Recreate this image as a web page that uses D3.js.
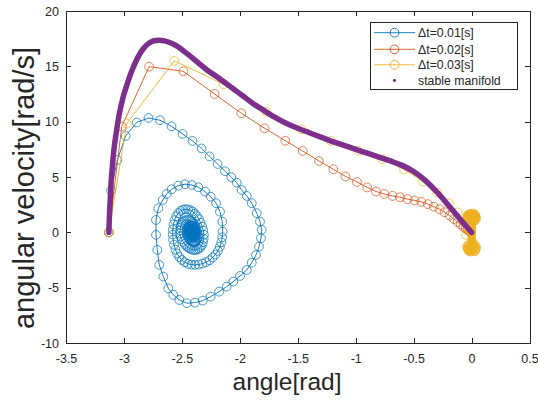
<!DOCTYPE html>
<html>
<head>
<meta charset="utf-8">
<script src="https://cdn.jsdelivr.net/npm/d3@7"></script>
<style>
  body { margin: 0; background: #fff; }
  svg { display: block; }
  text { font-family: "Liberation Sans", Arial, Helvetica, sans-serif; fill: #262626; }
</style>
</head>
<body>
<svg id="chart" width="538" height="401"></svg>
<script>
// Axis ticks
const xTicks = [-3.5, -3, -2.5, -2, -1.5, -1, -0.5, 0, 0.5];
const yTicks = [-10, -5, 0, 5, 10, 15, 20];

// Series names and colours
const seriesNames = ["\u0394t=0.01[s]", "\u0394t=0.02[s]", "\u0394t=0.03[s]", "stable manifold"];
const seriesColors = ["#0072BD", "#D95319", "#EDB120", "#7E2F8E"];

// Trajectory with time step 0.01 s: [angle, angular velocity]
const traj001 = [
  [-3.13,0],[-3.111,3.77],[-3.057,6.54],[-2.985,8.71],[-2.890,9.93],[-2.788,10.33],[-2.689,10.13],
  [-2.589,9.58],[-2.494,8.89],[-2.408,8.26],[-2.330,7.58],[-2.261,6.86],[-2.192,6.18],[-2.128,5.52],
  [-2.073,4.98],[-2.027,4.49],[-1.984,3.83],[-1.940,3.29],[-1.897,2.63],[-1.854,1.73],[-1.826,0.97],
  [-1.811,0.22],[-1.817,-0.53],[-1.834,-1.29],[-1.860,-2.04],[-1.897,-2.74],[-1.940,-3.40],[-1.998,-3.94],
  [-2.056,-4.45],[-2.113,-4.91],[-2.179,-5.36],[-2.251,-5.81],[-2.320,-6.17],[-2.387,-6.35],[-2.458,-6.40],
  [-2.522,-6.11],[-2.574,-5.65],[-2.617,-5.05],[-2.660,-4.00],[-2.695,-2.94],[-2.712,-1.59],[-2.723,-0.23],
  [-2.723,1.12],[-2.703,2.18],[-2.665,2.93],[-2.631,3.47],[-2.588,3.89],[-2.531,4.22],[-2.473,4.35],
  [-2.415,4.28],[-2.358,4.07],[-2.300,3.68],[-2.251,3.22],[-2.205,2.63],[-2.171,1.87],[-2.151,0.97],
  [-2.148,0.06],
  [-2.152,-0.45],[-2.160,-0.90],[-2.172,-1.30],[-2.189,-1.68],[-2.210,-2.00],[-2.235,-2.28],[-2.262,-2.52],
  [-2.292,-2.70],[-2.323,-2.83],[-2.355,-2.91],[-2.386,-2.94],[-2.417,-2.92],[-2.447,-2.85],[-2.475,-2.70],
  [-2.500,-2.50],[-2.522,-2.24],[-2.541,-1.92],[-2.556,-1.55],[-2.568,-1.12],[-2.576,-0.66],[-2.579,-0.20],
  [-2.578,0.26],[-2.573,0.70],[-2.563,1.10],[-2.549,1.45],[-2.531,1.73],[-2.511,1.93],[-2.490,2.05],
  [-2.469,2.09],[-2.448,2.07],[-2.427,2.00],[-2.407,1.88],[-2.388,1.70],[-2.370,1.47],[-2.353,1.19],
  [-2.338,0.87],[-2.325,0.52],[-2.315,0.15],
  [-2.310,-0.22],[-2.312,-0.58],[-2.318,-0.88],[-2.327,-1.14],[-2.339,-1.34],[-2.353,-1.48],[-2.368,-1.56],
  [-2.384,-1.59],[-2.400,-1.59],[-2.416,-1.55],[-2.432,-1.47],[-2.447,-1.36],[-2.462,-1.22],[-2.476,-1.05],
  [-2.489,-0.85],[-2.501,-0.62],[-2.512,-0.37],[-2.520,-0.10],
  [-2.514,0.18],[-2.512,0.44],[-2.507,0.66],[-2.499,0.84],[-2.488,0.98],[-2.475,1.07],[-2.461,1.11],
  [-2.447,1.12],[-2.433,1.09],[-2.420,1.02],[-2.407,0.92],[-2.396,0.78],[-2.386,0.62],[-2.378,0.43],
  [-2.372,0.22],[-2.368,0.0],
  [-2.360,-0.22],[-2.362,-0.42],[-2.366,-0.59],[-2.372,-0.72],[-2.380,-0.81],[-2.389,-0.85],[-2.399,-0.86],
  [-2.409,-0.84],[-2.419,-0.79],[-2.428,-0.70],[-2.437,-0.59],[-2.445,-0.46],[-2.452,-0.31],[-2.457,-0.15],
  [-2.459,0.01],
  [-2.458,0.16],[-2.455,0.30],[-2.450,0.42],[-2.443,0.52],[-2.434,0.59],[-2.425,0.62],[-2.416,0.62],
  [-2.407,0.58],[-2.399,0.51],[-2.392,0.42],[-2.386,0.31],[-2.382,0.18],[-2.380,0.05],
  [-2.380,-0.09],[-2.382,-0.22],[-2.385,-0.33],[-2.390,-0.41],[-2.396,-0.46],[-2.403,-0.47],[-2.410,-0.45],
  [-2.417,-0.41],[-2.424,-0.34],[-2.430,-0.25],[-2.435,-0.15],[-2.438,-0.04],
  [-2.438,0.07],[-2.436,0.17],[-2.432,0.25],[-2.427,0.31],[-2.421,0.34],[-2.415,0.34],[-2.409,0.31],
  [-2.403,0.26],[-2.398,0.19],[-2.394,0.11],[-2.392,0.02],
  [-2.392,-0.07],[-2.394,-0.15],[-2.398,-0.21],[-2.403,-0.24],[-2.409,-0.25],[-2.415,-0.23],[-2.420,-0.18],
  [-2.424,-0.11],[-2.426,-0.03],
  [-2.426,0.05],[-2.424,0.12],[-2.420,0.16],[-2.415,0.18],[-2.410,0.17],[-2.405,0.13],[-2.401,0.08],
  [-2.399,0.02],
  [-2.399,-0.04],[-2.401,-0.09],[-2.405,-0.12],[-2.410,-0.12],[-2.414,-0.09],[-2.417,-0.04],[-2.417,0.01],
  [-2.415,0.05],[-2.412,0.07],[-2.408,0.06],[-2.405,0.03],[-2.405,-0.01],[-2.407,-0.04],[-2.410,-0.04],
  [-2.411,-0.01],[-2.410,0.01],[-2.408,0.0]
];

// Trajectory with time step 0.02 s
const traj002 = [
  [-3.13,0],[-3.019,9.55],[-2.783,14.97],[-2.487,14.55],[-2.218,12.50],[-1.987,10.76],[-1.787,9.41],
  [-1.608,8.28],[-1.457,7.35],[-1.317,6.45],[-1.193,5.70],[-1.088,5.05],[-0.989,4.55],[-0.901,4.06],
  [-0.825,3.69],[-0.753,3.47],[-0.682,3.29],[-0.618,3.17],[-0.553,3.00],[-0.491,2.88],[-0.434,2.75],
  [-0.378,2.55],[-0.326,2.32],[-0.276,2.09],[-0.233,1.82],[-0.190,1.51],[-0.152,1.20],[-0.120,0.93],
  [-0.093,0.70],[-0.070,0.50],[-0.050,0.34],[-0.034,0.21],[-0.021,0.12],[-0.011,0.05],[-0.004,0.01]
];

// Trajectory with time step 0.03 s (ends chattering around the upright position)
const traj003 = [
  [-3.13,0],[-2.976,9.82],[-2.565,15.50],[-2.140,13.38],[-1.771,10.90],[-1.468,9.31],[-1.213,8.26],
  [-0.978,7.37],[-0.769,6.60],[-0.582,5.68],[-0.419,4.58],[-0.296,3.59],[-0.196,2.62],[-0.122,1.80],
  [-0.064,0.95],[-0.048,-0.22],
  [0.004,1.31],[-0.012,-1.40],[0.015,1.18],[-0.025,-1.55],[0.030,1.42],[0.002,-1.26],
  [-0.028,1.24],[0.010,-1.62],[0.024,1.56],[-0.016,-1.37],[0.008,1.05],[0.031,-1.45],
  [-0.020,1.48],[0.005,-1.12],[0.022,1.26],[-0.030,-1.50],[0.000,1.62],[0.018,-1.30],
  [-0.010,1.12],[0.027,-1.68],[-0.033,1.35],[0.007,-1.42],[0.013,1.52],[-0.020,-1.20],
  [0.033,1.22],[-0.004,-1.58],[-0.024,1.40],[0.021,-1.34],[0.003,1.00],[-0.014,-1.47],
  [0.017,1.33],[0.035,-1.25],[-0.031,1.58],[-0.008,-1.65],[0.026,1.08],[0.011,-1.38],
  [-0.017,1.28],[0.028,-1.53],[0.009,1.45],[-0.027,-1.29],[0.019,1.16],[-0.001,-1.44],
  [-0.022,1.38],[0.016,-1.17],[0.034,1.30],[-0.018,-1.60],[0.006,1.50],[0.001,-1.36],
  [-0.036,1.20],[0.036,-1.48],[-0.006,1.68],[-0.033,-1.40],[0.038,1.36],[0.024,-1.08],
  [-0.014,0.98],[-0.011,-1.74],[0.011,1.25],[0.004,-1.52],[-0.026,1.55],[0.032,-1.62],
  [0.029,1.60],[-0.037,-1.32],[-0.003,1.40],[0.014,-1.22],[0.036,1.12],[-0.022,-1.70],
  [-0.038,1.46],[0.019,-1.46],[0.020,1.02],[-0.006,-1.28],[-0.018,1.64],[0.038,-1.36],
  [0.002,1.20],[-0.028,-1.58],[0.027,1.50],[0.009,-1.15],[-0.030,1.10],[-0.015,-1.50],
  [0.012,1.36],[0.026,-1.72],[-0.008,1.58],[-0.035,-1.20],[0.032,1.46],[0.006,-1.62],
  [-0.023,1.16],[0.017,-1.40],[0.016,1.70],[-0.024,-1.44],[-0.001,1.30],[0.000,-1.41]
];

// Stable manifold of the upright equilibrium
const manifold = [
  [-3.13,0],[-3.125,1.5],[-3.118,3.0],[-3.110,4.6],[-3.098,6.2],[-3.085,7.6],[-3.065,9.1],[-3.040,10.7],
  [-3.010,12.1],[-2.975,13.3],[-2.935,14.5],[-2.890,15.6],[-2.840,16.5],[-2.790,17.05],[-2.745,17.3],
  [-2.700,17.35],[-2.650,17.3],[-2.590,17.08],[-2.530,16.75],[-2.480,16.35],[-2.420,15.85],[-2.350,15.25],
  [-2.280,14.65],[-2.210,14.15],[-2.150,13.7],[-2.060,13.0],[-1.970,12.3],[-1.880,11.6],[-1.790,11.0],
  [-1.700,10.4],[-1.600,9.85],[-1.500,9.4],[-1.400,9.0],[-1.300,8.6],[-1.200,8.2],[-1.100,7.85],
  [-1.000,7.5],[-0.900,7.15],[-0.800,6.8],[-0.700,6.45],[-0.600,6.05],[-0.500,5.5],[-0.400,4.7],
  [-0.300,3.65],[-0.200,2.45],[-0.100,1.2],[0,0]
];

const plot = { left: 66, right: 529.5, top: 11, bottom: 343 };

const svg = d3.select("#chart");
const x = d3.scaleLinear().domain([-3.5, 0.5]).range([plot.left, plot.right]);
const y = d3.scaleLinear().domain([-10, 20]).range([plot.bottom, plot.top]);

const fmt = v => String(v);
const axisColor = "#262626";

function styleAxis(g) {
  g.selectAll("path.domain").attr("stroke", axisColor).attr("stroke-width", 1);
  g.selectAll(".tick line").attr("stroke", axisColor).attr("stroke-width", 1);
  g.selectAll(".tick text").attr("fill", axisColor)
    .style("font-size", "12.5px").style("font-family", '"Liberation Sans", Arial, sans-serif');
  g.attr("shape-rendering", "crispEdges");
}

// Box axes with inward ticks
svg.append("g").attr("transform", `translate(0,${plot.bottom})`)
  .call(d3.axisBottom(x).tickValues(xTicks).tickFormat(fmt).tickSizeInner(-5).tickSizeOuter(0).tickPadding(11))
  .call(styleAxis);
svg.append("g").attr("transform", `translate(0,${plot.top})`)
  .call(d3.axisTop(x).tickValues(xTicks).tickFormat("").tickSizeInner(-5).tickSizeOuter(0))
  .call(styleAxis);
svg.append("g").attr("transform", `translate(${plot.left},0)`)
  .call(d3.axisLeft(y).tickValues(yTicks).tickFormat(fmt).tickSizeInner(-5).tickSizeOuter(0).tickPadding(7))
  .call(styleAxis);
svg.append("g").attr("transform", `translate(${plot.right},0)`)
  .call(d3.axisRight(y).tickValues(yTicks).tickFormat("").tickSizeInner(-5).tickSizeOuter(0))
  .call(styleAxis);

// Axis titles
svg.append("text")
  .attr("x", 287).attr("y", 390)
  .attr("text-anchor", "middle")
  .style("font-size", "24.5px")
  .text("angle[rad]");
svg.append("text")
  .attr("transform", "translate(34,188) rotate(-90)")
  .attr("text-anchor", "middle")
  .style("font-size", "29px")
  .text("angular velocity[rad/s]");

const layer = svg.append("g");
const line = d3.line().x(d => x(d[0])).y(d => y(d[1]));

function drawTrajectory(data, color) {
  const g = layer.append("g");
  g.append("path").datum(data)
    .attr("d", line).attr("fill", "none")
    .attr("stroke", color).attr("stroke-width", 0.9).attr("stroke-linejoin", "round");
  g.selectAll("circle").data(data).join("circle")
    .attr("cx", d => x(d[0])).attr("cy", d => y(d[1])).attr("r", 4.4)
    .attr("fill", "none").attr("stroke", color).attr("stroke-width", 0.85).attr("stroke-opacity", 0.85);
}

drawTrajectory(traj001, seriesColors[0]);
drawTrajectory(traj002, seriesColors[1]);
drawTrajectory(traj003, seriesColors[2]);

// Manifold: a dense run of dots, drawn as one thick smooth stroke
layer.append("path").datum(manifold)
  .attr("d", d3.line().x(d => x(d[0])).y(d => y(d[1])).curve(d3.curveCatmullRom.alpha(0.5)))
  .attr("fill", "none").attr("stroke", seriesColors[3])
  .attr("stroke-width", 5.5).attr("stroke-linecap", "round").attr("stroke-linejoin", "round");

// Legend
const lg = svg.append("g");
lg.append("rect")
  .attr("x", 370.5).attr("y", 22.5).attr("width", 147).attr("height", 67)
  .attr("fill", "#fff").attr("stroke", axisColor).attr("stroke-width", 1);
const rowY = [32.7, 49.3, 64.8, 80.3];
seriesNames.forEach((name, i) => {
  const ry = rowY[i];
  if (i < 3) {
    lg.append("line").attr("x1", 374).attr("x2", 415).attr("y1", ry).attr("y2", ry)
      .attr("stroke", seriesColors[i]).attr("stroke-width", 0.9);
    lg.append("circle").attr("cx", 394.5).attr("cy", ry).attr("r", 4.4)
      .attr("fill", "none").attr("stroke", seriesColors[i]).attr("stroke-width", 0.9);
  } else {
    lg.append("circle").attr("cx", 394.5).attr("cy", ry).attr("r", 1.6)
      .attr("fill", seriesColors[i]);
  }
  lg.append("text").attr("x", 418).attr("y", ry).attr("dy", "0.36em")
    .style("font-size", "12.3px").text(name);
});
</script>
</body>
</html>
